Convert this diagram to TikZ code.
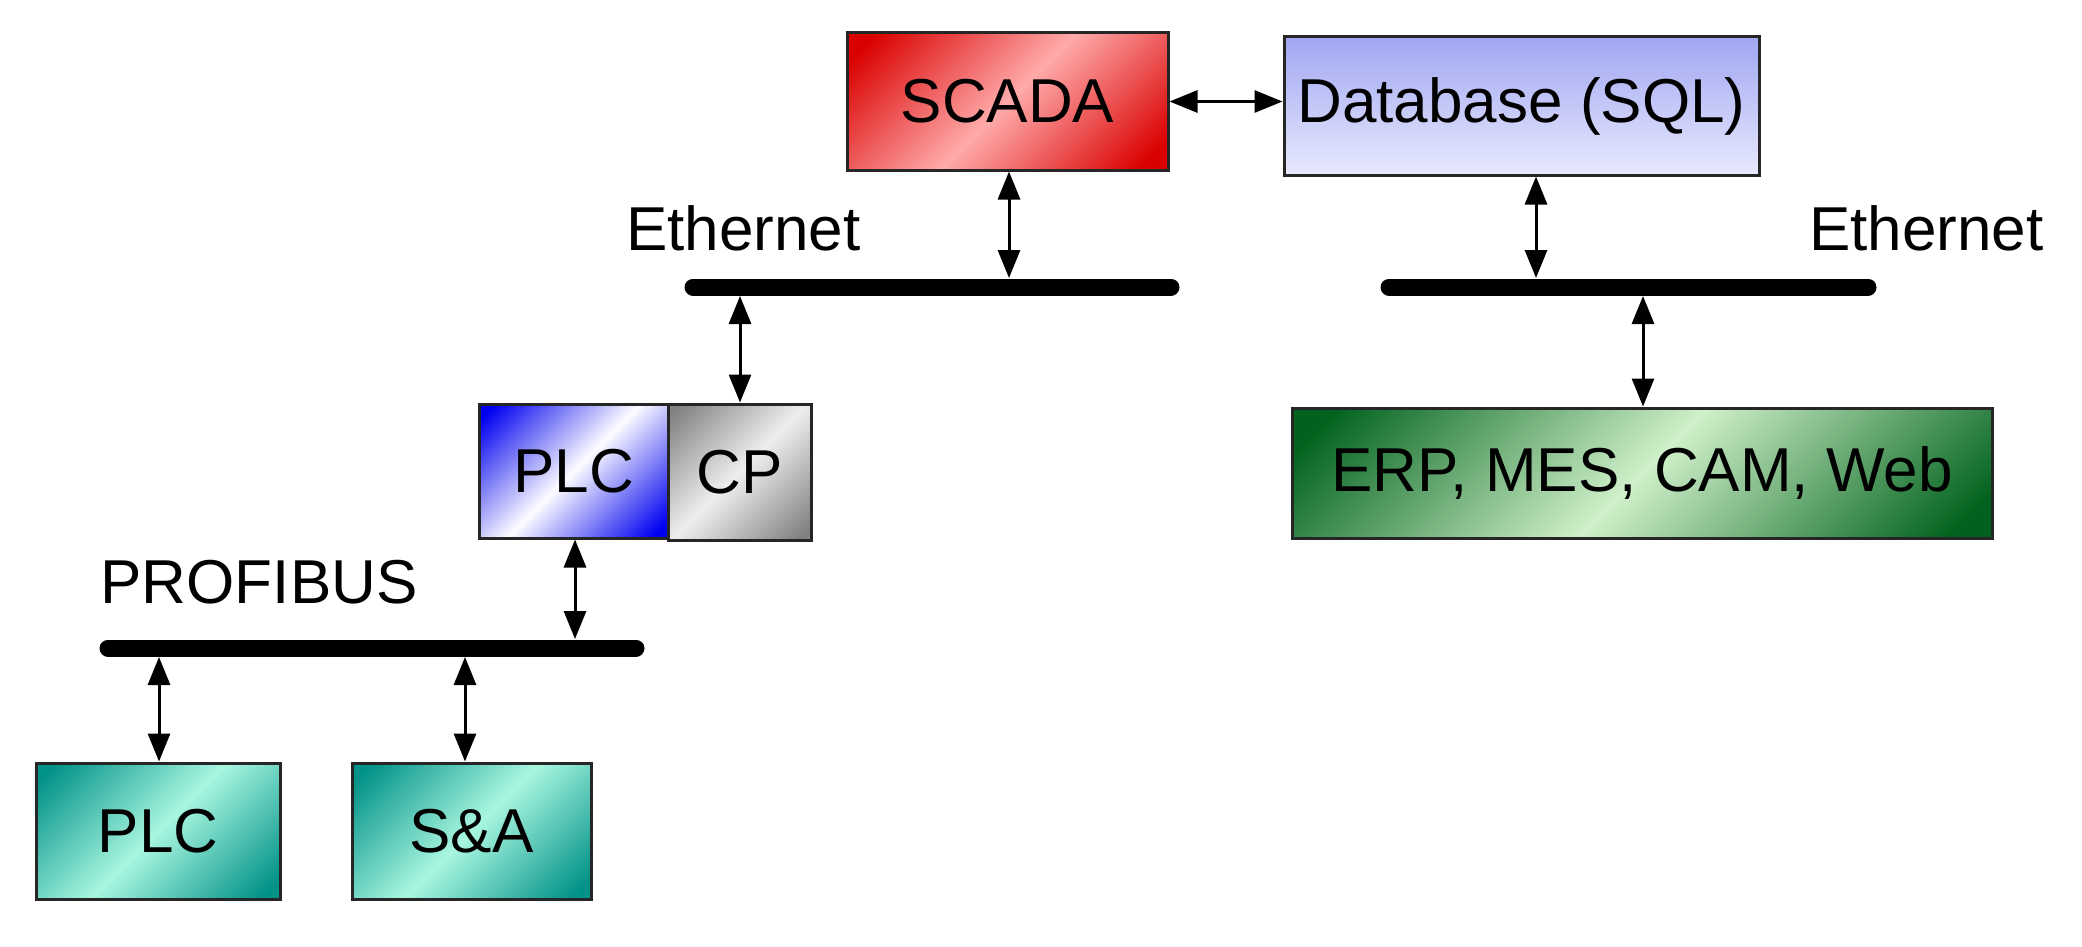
\documentclass[tikz,border=0pt]{standalone}
\usepackage{fontspec}
\setmainfont{Liberation Sans}
\usetikzlibrary{arrows.meta}
\definecolor{scadaD}{RGB}{218,0,0}
\definecolor{scadaL}{RGB}{255,170,170}
\definecolor{dbT}{RGB}{160,166,242}
\definecolor{dbB}{RGB}{232,234,253}
\definecolor{plcD}{RGB}{0,0,240}
\definecolor{plcL}{RGB}{252,252,255}
\definecolor{cpD}{RGB}{130,130,130}
\definecolor{cpL}{RGB}{238,238,238}
\definecolor{erpD}{RGB}{0,98,28}
\definecolor{erpL}{RGB}{208,240,202}
\definecolor{tealD}{RGB}{0,145,135}
\definecolor{tealL}{RGB}{168,246,224}
\pgfdeclareverticalshading{scadaSh}{100bp}{color(0bp)=(scadaD); color(19bp)=(scadaD); color(50bp)=(scadaL); color(81bp)=(scadaD); color(100bp)=(scadaD)}
\pgfdeclareverticalshading{plcSh}{100bp}{color(0bp)=(plcD); color(18bp)=(plcD); color(50bp)=(plcL); color(82bp)=(plcD); color(100bp)=(plcD)}
\pgfdeclareverticalshading{cpSh}{100bp}{color(0bp)=(cpD); color(18bp)=(cpD); color(50bp)=(cpL); color(82bp)=(cpD); color(100bp)=(cpD)}
\pgfdeclareverticalshading{erpSh}{100bp}{color(0bp)=(erpD); color(18bp)=(erpD); color(50bp)=(erpL); color(82bp)=(erpD); color(100bp)=(erpD)}
\pgfdeclareverticalshading{tealSh}{100bp}{color(0bp)=(tealD); color(18bp)=(tealD); color(50bp)=(tealL); color(82bp)=(tealD); color(100bp)=(tealD)}
\begin{document}
\begin{tikzpicture}[x=0.5pt,y=-0.5pt,
  box/.style={draw=black!85, line width=1.5pt, inner sep=0pt, text=black,
    font=\fontsize{31}{36}\selectfont},
  diag/.style={shade, shading=#1, shading angle=45},
  lbl/.style={inner sep=0pt, font=\fontsize{31}{36}\selectfont},
  bus/.style={line width=8.5pt, line cap=round},
  arr/.style={{Triangle[length=14pt,width=11pt]}-{Triangle[length=14pt,width=11pt]}, line width=1.5pt}]
\useasboundingbox (0,0) rectangle (2082,947);
% boxes
\node[box, diag=scadaSh, minimum width=160.5pt, minimum height=68.5pt] (scada) at (1007.5,101.5) {SCADA};
\node[box, top color=dbT, bottom color=dbB, minimum width=237.5pt, minimum height=69pt] (db) at (1521.5,106) {Database (SQL)};
\node[box, diag=plcSh, minimum width=94.5pt, minimum height=67pt] (plcb) at (573.5,471) {PLC};
\node[box, diag=cpSh, minimum width=71.5pt, minimum height=68pt] (cp) at (739.5,472) {CP};
\node[box, diag=erpSh, minimum width=350pt, minimum height=65pt] (erp) at (1642,473) {ERP, MES, CAM, Web};
\node[box, diag=tealSh, minimum width=122pt, minimum height=68pt] (plc2) at (158,831) {PLC};
\node[box, diag=tealSh, minimum width=119.5pt, minimum height=68pt] (sa) at (471.5,831) {S\&A};
% labels
\node[lbl] (ethl) at (743.5,228) {Ethernet};
\node[lbl] (ethr) at (1926.5,228) {Ethernet};
\node[lbl] (prof) at (259,582) {PROFIBUS};
% buses
\coordinate (bl1) at (693,287); \coordinate (bl2) at (1171,287);
\coordinate (br1) at (1389,287); \coordinate (br2) at (1868,287);
\coordinate (bp1) at (108,648); \coordinate (bp2) at (636,648);
\draw[bus] (bl1) -- (bl2);
\draw[bus] (br1) -- (br2);
\draw[bus] (bp1) -- (bp2);
% tap points
\coordinate (tscada) at (1009,278);
\coordinate (tcp) at (740,296);
\coordinate (tdb) at (1536,278);
\coordinate (terp) at (1643,296);
\coordinate (tplcb) at (575,639);
\coordinate (tplc2) at (159,657);
\coordinate (tsa) at (465,657);
% arrows
\draw[arr] (scada.east) -- (scada.east -| db.west);
\draw[arr] (tscada |- scada.south) -- (tscada);
\draw[arr] (tdb |- db.south) -- (tdb);
\draw[arr] (terp) -- (terp |- erp.north);
\draw[arr] (tcp) -- (tcp |- cp.north);
\draw[arr] (tplcb |- plcb.south) -- (tplcb);
\draw[arr] (tplc2) -- (tplc2 |- plc2.north);
\draw[arr] (tsa) -- (tsa |- sa.north);
\end{tikzpicture}
\end{document}
